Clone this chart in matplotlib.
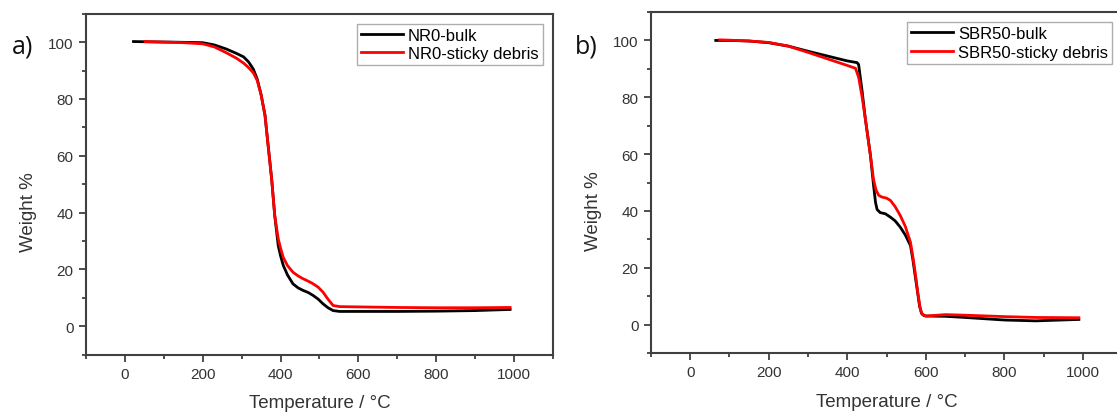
import matplotlib
matplotlib.use("Agg")
import matplotlib.pyplot as plt
from matplotlib.ticker import MultipleLocator

plt.rcParams['font.family'] = ['Liberation Sans', 'DejaVu Sans']

# panel a) NR0
nr0_bulk_t = [22, 60, 120, 200, 230, 260, 287, 305, 318, 330, 340, 350, 360, 368,
              377, 385, 394, 400, 407, 418, 432, 445, 458, 472, 484, 497, 509,
              522, 535, 552, 600, 700, 800, 900, 990]
nr0_bulk_w = [100.2, 100.1, 100.0, 99.8, 99.0, 97.6, 96.0, 94.8, 93.0, 90.5, 87.0,
              81.5, 74.3, 63.7, 52.0, 39.0, 28.4, 24.8, 21.4, 18.0, 14.9, 13.5,
              12.6, 11.8, 10.8, 9.5, 7.9, 6.5, 5.5, 5.2, 5.2, 5.2, 5.3, 5.5, 5.9]
nr0_sticky_t = [52, 100, 150, 200, 230, 260, 287, 305, 318, 330, 340, 350, 360,
                368, 377, 385, 394, 400, 407, 418, 432, 445, 458, 472, 484, 497,
                509, 522, 535, 552, 600, 700, 800, 900, 990]
nr0_sticky_w = [100.2, 100.0, 99.8, 99.4, 98.3, 96.3, 94.3, 92.6, 91.0, 89.2,
                86.5, 81.5, 74.3, 63.7, 52.0, 39.0, 30.8, 27.5, 24.2, 21.3, 19.0,
                17.7, 16.7, 15.8, 14.9, 13.7, 12.0, 9.5, 7.3, 6.9, 6.8, 6.6, 6.5,
                6.5, 6.6]

# panel b) SBR50
sbr_bulk_t = [65, 100, 150, 200, 250, 300, 350, 400, 425, 429, 438, 446, 459,
              467, 472, 476, 484, 497, 510, 522, 535, 548, 561, 567, 573, 579,
              584, 589, 595, 600, 650, 700, 800, 880, 990]
sbr_bulk_w = [100.0, 100.0, 99.8, 99.2, 98.0, 96.2, 94.5, 92.8, 92.2, 91.5, 82.0,
              72.5, 59.6, 49.0, 43.0, 40.5, 39.4, 39.0, 37.8, 36.5, 34.3, 31.5,
              27.8, 23.0, 17.2, 11.5, 6.7, 4.0, 3.2, 3.0, 2.9, 2.5, 1.6, 1.3, 1.8]
sbr_sticky_t = [75, 100, 150, 200, 250, 300, 350, 400, 421, 429, 438, 446, 459,
                467, 473, 480, 488, 500, 510, 522, 535, 548, 561, 567, 573, 580,
                586, 591, 600, 650, 700, 800, 880, 990]
sbr_sticky_w = [100.2, 100.1, 99.8, 99.3, 98.0, 95.8, 93.5, 91.2, 90.2, 87.0,
                80.0, 72.5, 59.6, 51.0, 47.5, 45.5, 44.9, 44.5, 43.7, 41.5, 38.4,
                34.5, 29.0, 24.0, 18.4, 11.0, 5.5, 3.6, 3.0, 3.5, 3.3, 2.8, 2.5,
                2.4]

panels = [
    ("a)", nr0_bulk_t, nr0_bulk_w, nr0_sticky_t, nr0_sticky_w,
     "NR0-bulk", "NR0-sticky debris"),
    ("b)", sbr_bulk_t, sbr_bulk_w, sbr_sticky_t, sbr_sticky_w,
     "SBR50-bulk", "SBR50-sticky debris"),
]

axes_rects = [[0.077, 0.141, 0.418, 0.8235], [0.5828, 0.145, 0.4217, 0.8235]]
letter_pos = [(0.011, 1 - 53 / 414), (0.515, 1 - 54 / 414)]

spine_col = "#404040"
text_col = "#333333"

fig = plt.figure(figsize=(11.17, 4.14), dpi=100)

for (tag, bt, bw, st, sw, lb, ls), rect, pos in zip(panels, axes_rects, letter_pos):
    ax = fig.add_axes(rect)
    ax.plot(bt, bw, color="black", lw=2.0, label=lb)
    ax.plot(st, sw, color="#ff0000", lw=2.0, label=ls)
    ax.set_xlim(-100, 1100)
    ax.set_ylim(-10, 110)
    ax.xaxis.set_major_locator(MultipleLocator(200))
    ax.xaxis.set_minor_locator(MultipleLocator(100))
    ax.yaxis.set_major_locator(MultipleLocator(20))
    ax.yaxis.set_minor_locator(MultipleLocator(10))
    ax.set_yticks([0, 20, 40, 60, 80, 100])
    ax.tick_params(which="both", direction="out", color=spine_col, width=1.3,
                   top=False, right=False)
    ax.tick_params(which="major", length=5, labelsize=11, labelcolor=text_col, pad=4)
    ax.tick_params(which="minor", length=3)
    for s in ax.spines.values():
        s.set_color(spine_col)
        s.set_linewidth(1.5)
    ax.set_xlabel("Temperature / °C", fontsize=13.5, color=text_col)
    ax.set_ylabel("Weight %", fontsize=13.5, color=text_col)
    ax.xaxis.set_label_coords(0.5, -0.116)
    ax.yaxis.set_label_coords(-0.104, 0.42)
    leg = ax.legend(loc="upper right", fontsize=12, frameon=True, fancybox=False,
                    edgecolor="#999999", handlelength=2.5, handletextpad=0.3,
                    borderpad=0.25, labelspacing=0.2, borderaxespad=0.6)
    leg.get_frame().set_linewidth(1.0)
    fig.text(pos[0], pos[1], tag, fontsize=18, family=["Open Sans", "DejaVu Sans"],
             color="#111111", va="baseline", ha="left")

fig.savefig("out.png", dpi=100)
